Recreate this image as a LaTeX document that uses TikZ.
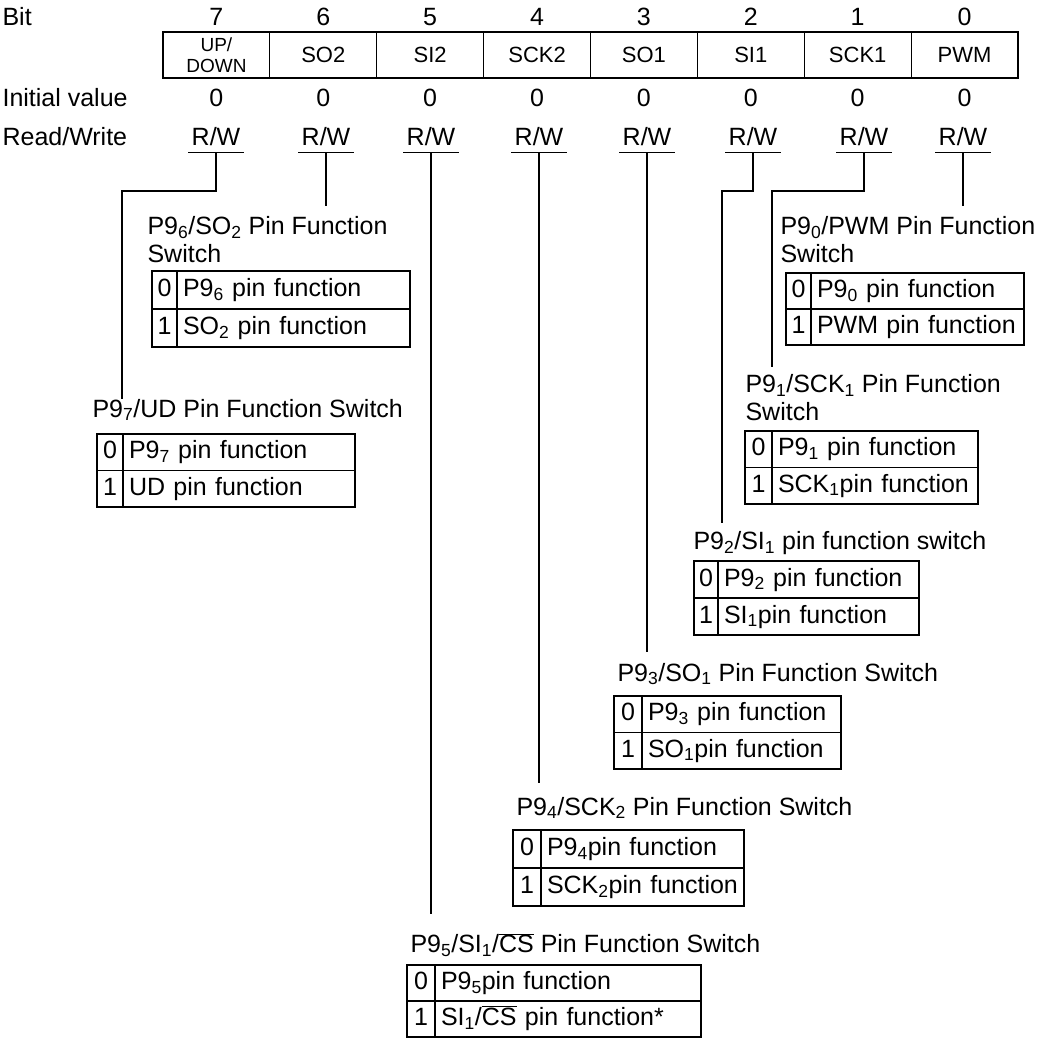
\documentclass[tikz,border=0pt]{standalone}
\usepackage{fontspec}
\setmainfont{Liberation Sans}
\newcommand{\sub}[1]{\textsubscript{#1}}
\newcommand{\ovl}[1]{$\overline{\hbox{#1}}$}
\tikzset{
  rowlbl/.style={anchor=west, inner sep=0pt},
  regcell/.style={draw, outer sep=0pt, minimum width=106.875pt, minimum height=46pt,
    font=\fontsize{22}{24}\selectfont},
  rwlbl/.style={minimum width=54pt, minimum height=30pt, inner sep=0pt},
  ttl/.style={anchor=west, align=left, inner sep=0pt, font=\fontsize{25}{28}\selectfont},
  valcell/.style={draw, anchor=north west, outer sep=0pt, inner sep=0pt,
    text height=18pt, text depth=5pt},
  fncell/.style={draw, anchor=north west, outer sep=0pt, inner xsep=6pt, inner ysep=0pt,
    align=left, text height=18pt, text depth=5pt}
}
% one pin function table: bit, left x, divider x, right x, top y, row height, row 0, row 1
\newcommand{\pinswitch}[8]{%
  \pgfmathsetmacro\valw{#3-#2}
  \pgfmathsetmacro\fnw{#4-#3-12}
  \node[valcell, minimum width=\valw pt, minimum height=#6pt] (tab#1v0) at (#2,#5) {0};
  \node[fncell, text width=\fnw pt, minimum height=#6pt] (tab#1f0) at (tab#1v0.north east) {\mbox{#7}};
  \node[valcell, minimum width=\valw pt, minimum height=#6pt] (tab#1v1) at (tab#1v0.south west) {1};
  \node[fncell, text width=\fnw pt, minimum height=#6pt] (tab#1f1) at (tab#1v1.north east) {\mbox{#8}};
}

\begin{document}
\begin{tikzpicture}[x=1pt, y=-1pt, line width=1.1pt, font=\fontsize{25}{29}\selectfont]
  \useasboundingbox (0,0) rectangle (1051,1040);
  % Row labels
  \node[rowlbl] (lblbit) at (2,17) {Bit};
  \node[rowlbl] (lblinit) at (2,98) {Initial value};
  \node[rowlbl] (lblrw) at (2,137) {Read/Write};
  % Bit numbers and initial values
  \foreach \b in {0,...,7} {
    \pgfmathsetmacro\cx{163+(7.5-\b)*106.875}
    \node (bit\b) at (\cx,17) {\b};
    \node (init\b) at (\cx,98) {0};
  }
  % Register
  \node[regcell, align=center, font=\fontsize{19}{21}\selectfont] (reg7) at (216.4,55) {UP/\\DOWN};
  \foreach \b/\lbl in {6/SO2,5/SI2,4/SCK2,3/SO1,2/SI1,1/SCK1,0/PWM} {
    \pgfmathsetmacro\cx{163+(7.5-\b)*106.875}
    \node[regcell] (reg\b) at (\cx,55) {\lbl};
  }
  % R/W with underline
  \foreach \b/\x in {7/216,6/326,5/431,4/539,3/647,2/753,1/864,0/963} {
    \node[rwlbl] (rw\b) at (\x,137) {R/W};
    \draw (rw\b.south west) -- (rw\b.south east);
  }
  % Line ends
  \coordinate (knee7) at (122,191);
  \coordinate (end7) at (122,399);
  \coordinate (end6) at (326,206);
  \coordinate (end5) at (431,914);
  \coordinate (end4) at (539,783);
  \coordinate (end3) at (647,652);
  \coordinate (knee2) at (722,191);
  \coordinate (end2) at (722,523);
  \coordinate (knee1) at (772,191);
  \coordinate (end1) at (772,367);
  \coordinate (end0) at (963,206);
  % Leader lines
  \draw (rw7.south) |- (knee7) -- (end7);
  \draw (rw6.south) -- (end6);
  \draw (rw5.south) -- (end5);
  \draw (rw4.south) -- (end4);
  \draw (rw3.south) -- (end3);
  \draw (rw2.south) |- (knee2) -- (end2);
  \draw (rw1.south) |- (knee1) -- (end1);
  \draw (rw0.south) -- (end0);
  % Titles
  \node[ttl] (ttl6) at (147,240) {P9\sub{6}/SO\sub{2} Pin Function\\Switch};
  \node[ttl] (ttl7) at (92,410) {P9\sub{7}/UD Pin Function Switch};
  \node[ttl] (ttl0) at (780,240) {P9\sub{0}/PWM Pin Function\\Switch};
  \node[ttl] (ttl1) at (745,398) {P9\sub{1}/SCK\sub{1} Pin Function\\Switch};
  \node[ttl] (ttl2) at (693,543) {P9\sub{2}/SI\sub{1} pin function switch};
  \node[ttl] (ttl3) at (617,674) {P9\sub{3}/SO\sub{1} Pin Function Switch};
  \node[ttl] (ttl4) at (516,808) {P9\sub{4}/SCK\sub{2} Pin Function Switch};
  \node[ttl] (ttl5) at (410,945) {P9\sub{5}/SI\sub{1}/\ovl{CS} Pin Function Switch};
  % Tables
  \pinswitch{6}{152}{177}{410}{271}{38}{P9\sub{6} pin function}{SO\sub{2} pin function}
  \pinswitch{7}{97}{123}{355}{434}{36.5}{P9\sub{7} pin function}{UD pin function}
  \pinswitch{0}{786}{811}{1024}{273}{36}{P9\sub{0} pin function}{PWM pin function}
  \pinswitch{1}{745}{772}{978}{431}{36.5}{P9\sub{1} pin function}{SCK\sub{1}pin function}
  \pinswitch{2}{694}{718}{919}{561}{37}{P9\sub{2} pin function}{SI\sub{1}pin function}
  \pinswitch{3}{614}{642}{841}{696}{36.5}{P9\sub{3} pin function}{SO\sub{1}pin function}
  \pinswitch{4}{513}{541}{744}{830}{38}{P9\sub{4}pin function}{SCK\sub{2}pin function}
  \pinswitch{5}{407}{435}{701}{965}{36}{P9\sub{5}pin function}{SI\sub{1}/\ovl{CS} pin function*}
\end{tikzpicture}
\end{document}
